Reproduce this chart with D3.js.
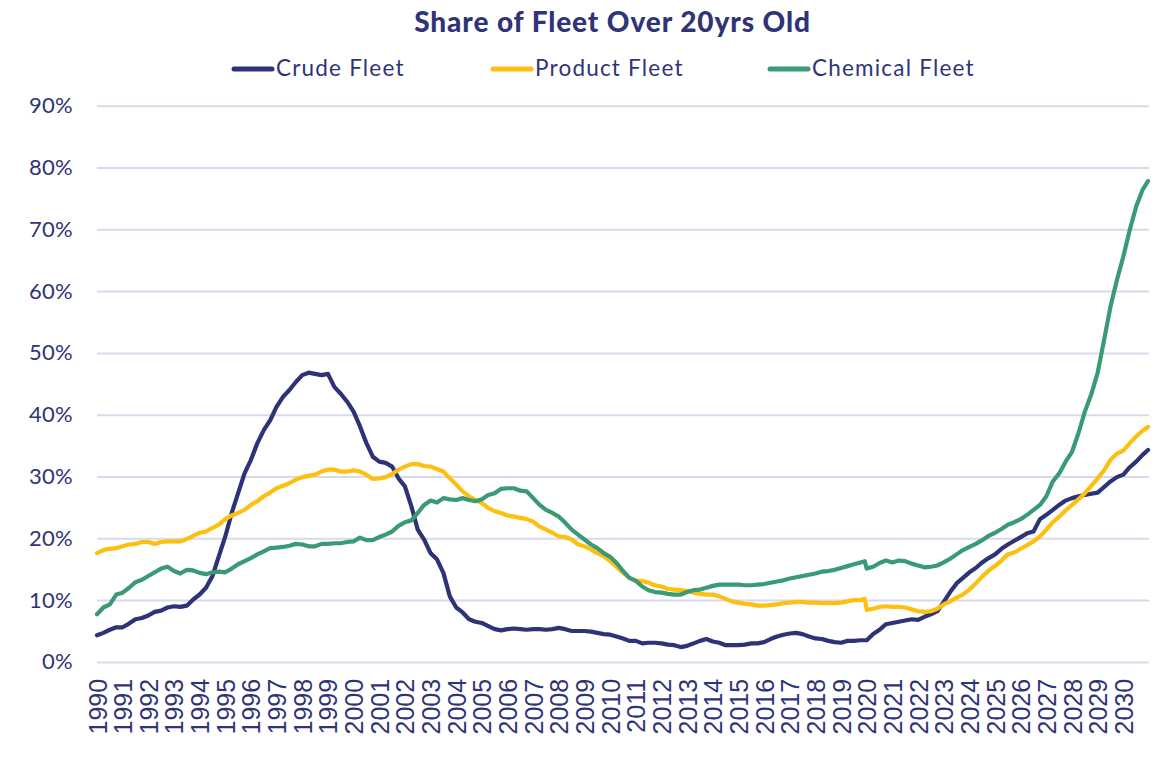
<!DOCTYPE html>
<html>
<head>
<meta charset="utf-8">
<script src="https://cdn.jsdelivr.net/npm/d3@7"></script>
<style>
  html, body { margin: 0; padding: 0; background: #fff; }
  svg { display: block; }
</style>
</head>
<body>
<svg id="chart" width="1167" height="779"></svg>
<script>
// ---- data (quarterly readings, % of fleet over 20 years old) ----
const title = "Share of Fleet Over 20yrs Old";
const seriesNames = ["Crude Fleet", "Product Fleet", "Chemical Fleet"];
const yearLabels = d3.range(1990, 2031).map(String);
const yTicks = [0, 10, 20, 30, 40, 50, 60, 70, 80, 90];

// time points: quarters 1990.00 ... 2030.75, an extra point just before the 2020 step, and the final month
const timePoints = [];
for (let yr = 1990; yr <= 2030; yr++) {
  for (let q = 0; q < 4; q++) {
    timePoints.push(yr + q * 0.25);
    if (yr === 2019 && q === 3) timePoints.push(2019.92);
  }
}
timePoints.push(2030.96);

const crude = [
  4.3, 4.7, 5.2, 5.6,      // 1990
  5.6, 6.2, 6.9, 7.1,      // 1991
  7.5, 8.1, 8.3, 8.8,      // 1992
  9.0, 8.9, 9.1, 10.1,     // 1993
  10.9, 12.0, 13.9, 17.1,  // 1994
  20.3, 24.1, 27.3, 30.5,  // 1995
  32.7, 35.4, 37.5, 39.1,  // 1996
  41.3, 42.9, 44.0, 45.3,  // 1997
  46.4, 46.8, 46.6, 46.4,  // 1998
  46.6, 44.5, 43.4, 42.1,  // 1999
  40.5, 38.1, 35.4, 33.2,  // 2000
  32.4, 32.2, 31.6, 29.7,  // 2001
  28.4, 25.2, 21.4, 19.8,  // 2002
  17.6, 16.6, 14.4, 10.6,  // 2003
  8.8, 8.0, 6.9, 6.5,      // 2004
  6.3, 5.8, 5.3, 5.1,      // 2005
  5.3, 5.4, 5.3, 5.2,      // 2006
  5.3, 5.3, 5.2, 5.3,      // 2007
  5.5, 5.3, 5.0, 5.0,      // 2008
  5.0, 4.9, 4.7, 4.5,      // 2009
  4.4, 4.1, 3.8, 3.4,      // 2010
  3.4, 3.0, 3.1, 3.1,      // 2011
  3.0, 2.8, 2.7, 2.4,      // 2012
  2.6, 3.0, 3.4, 3.7,      // 2013
  3.3, 3.1, 2.7, 2.7,      // 2014
  2.7, 2.8, 3.0, 3.0,      // 2015
  3.2, 3.7, 4.1, 4.4,      // 2016
  4.6, 4.7, 4.5, 4.1,      // 2017
  3.8, 3.7, 3.4, 3.2,      // 2018
  3.1, 3.4, 3.4, 3.5, 3.5, // 2019
  3.5, 4.5, 5.2, 6.1,      // 2020
  6.3, 6.5, 6.7, 6.9,      // 2021
  6.8, 7.3, 7.7, 8.2,      // 2022
  9.7, 11.3, 12.7, 13.6,   // 2023
  14.5, 15.2, 16.1, 16.8,  // 2024
  17.4, 18.3, 19.0, 19.6,  // 2025
  20.2, 20.8, 21.1, 23.1,  // 2026
  23.8, 24.6, 25.4, 26.1,  // 2027
  26.5, 26.8, 27.0, 27.2,  // 2028
  27.4, 28.3, 29.2, 29.9,  // 2029
  30.3, 31.5, 32.4, 33.5,  // 2030
  34.3
];

const product = [
  17.6, 18.1, 18.3, 18.4,  // 1990
  18.7, 19.0, 19.1, 19.4,  // 1991
  19.4, 19.1, 19.4, 19.5,  // 1992
  19.5, 19.5, 19.9, 20.4,  // 1993
  20.9, 21.1, 21.7, 22.2,  // 1994
  23.1, 23.7, 24.1, 24.6,  // 1995
  25.4, 26.0, 26.8, 27.4,  // 1996
  28.1, 28.5, 28.9, 29.5,  // 1997
  29.9, 30.1, 30.3, 30.8,  // 1998
  31.1, 31.1, 30.8, 30.8,  // 1999
  31.0, 30.8, 30.3, 29.6,  // 2000
  29.7, 29.9, 30.4, 31.1,  // 2001
  31.6, 32.0, 32.0, 31.7,  // 2002
  31.6, 31.2, 30.8, 29.7,  // 2003
  28.7, 27.6, 26.8, 26.2,  // 2004
  25.7, 24.9, 24.4, 24.1,  // 2005
  23.7, 23.5, 23.3, 23.1,  // 2006
  22.7, 21.9, 21.4, 20.9,  // 2007
  20.3, 20.2, 19.8, 19.0,  // 2008
  18.7, 18.2, 17.6, 17.1,  // 2009
  16.3, 15.4, 14.4, 13.6,  // 2010
  13.1, 13.1, 12.8, 12.4,  // 2011
  12.2, 11.8, 11.7, 11.6,  // 2012
  11.5, 11.2, 11.0, 10.9,  // 2013
  10.9, 10.6, 10.2, 9.8,   // 2014
  9.6, 9.4, 9.3, 9.1,      // 2015
  9.1, 9.2, 9.3, 9.5,      // 2016
  9.6, 9.7, 9.7, 9.6,      // 2017
  9.6, 9.5, 9.5, 9.5,      // 2018
  9.6, 9.8, 10.0, 10.0, 10.2, // 2019
  8.4, 8.6, 8.9, 9.0,      // 2020
  8.9, 8.9, 8.8, 8.5,      // 2021
  8.2, 8.1, 8.2, 8.6,      // 2022
  9.3, 9.8, 10.4, 10.9,    // 2023
  11.7, 12.7, 13.8, 14.8,  // 2024
  15.5, 16.4, 17.4, 17.7,  // 2025
  18.3, 18.9, 19.5, 20.3,  // 2026
  21.4, 22.6, 23.5, 24.5,  // 2027
  25.4, 26.3, 27.3, 28.5,  // 2028
  29.7, 31.0, 32.7, 33.7,  // 2029
  34.2, 35.4, 36.5, 37.4,  // 2030
  38.0
];

const chemical = [
  7.7, 8.8, 9.3, 10.9,     // 1990
  11.2, 12.0, 12.9, 13.3,  // 1991
  13.9, 14.5, 15.1, 15.4,  // 1992
  14.7, 14.3, 14.9, 14.8,  // 1993
  14.4, 14.2, 14.5, 14.6,  // 1994
  14.5, 15.1, 15.8, 16.3,  // 1995
  16.8, 17.4, 17.9, 18.4,  // 1996
  18.5, 18.6, 18.8, 19.1,  // 1997
  19.0, 18.7, 18.7, 19.1,  // 1998
  19.1, 19.2, 19.2, 19.4,  // 1999
  19.5, 20.1, 19.7, 19.7,  // 2000
  20.2, 20.6, 21.1, 22.0,  // 2001
  22.6, 22.9, 24.1, 25.4,  // 2002
  26.1, 25.8, 26.5, 26.3,  // 2003
  26.2, 26.5, 26.2, 26.0,  // 2004
  26.3, 27.0, 27.3, 28.0,  // 2005
  28.1, 28.1, 27.7, 27.6,  // 2006
  26.5, 25.4, 24.6, 24.1,  // 2007
  23.5, 22.5, 21.4, 20.6,  // 2008
  19.8, 19.0, 18.4, 17.6,  // 2009
  17.0, 16.0, 14.7, 13.6,  // 2010
  13.1, 12.2, 11.6, 11.3,  // 2011
  11.2, 11.0, 10.9, 10.9,  // 2012
  11.3, 11.6, 11.7, 12.0,  // 2013
  12.3, 12.5, 12.5, 12.5,  // 2014
  12.5, 12.4, 12.4, 12.5,  // 2015
  12.6, 12.8, 13.0, 13.2,  // 2016
  13.5, 13.7, 13.9, 14.1,  // 2017
  14.3, 14.6, 14.7, 14.9,  // 2018
  15.2, 15.5, 15.8, 16.1, 16.3, // 2019
  15.1, 15.4, 16.0, 16.4,  // 2020
  16.1, 16.4, 16.3, 15.9,  // 2021
  15.6, 15.3, 15.4, 15.6,  // 2022
  16.1, 16.7, 17.4, 18.1,  // 2023
  18.6, 19.1, 19.7, 20.4,  // 2024
  20.9, 21.5, 22.2, 22.6,  // 2025
  23.1, 23.8, 24.6, 25.4,  // 2026
  26.8, 29.2, 30.5, 32.4,  // 2027
  34.0, 37.0, 40.5, 43.3,  // 2028
  46.8, 52.1, 57.5, 61.8,  // 2029
  65.6, 69.9, 73.7, 76.4,  // 2030
  77.8
];

const seriesColors = ["#2e3277", "#fdc010", "#3a9a74"];
const seriesValues = [crude, product, chemical];

// ---- layout ----
const svg = d3.select("#chart");
const textColor = "#2f3478";
const plotLeft = 97, plotRight = 1149, plotTop = 105.7, plotBottom = 661.9;

const x = d3.scaleLinear().domain([1990, 2031]).range([plotLeft, plotRight]);
const y = d3.scaleLinear().domain([0, 90]).range([plotBottom, plotTop]);

// gridlines + y labels via axis
const yAxis = d3.axisLeft(y).tickValues(yTicks).tickSize(-(plotRight - plotLeft)).tickFormat(d => d + "%");
const gy = svg.append("g").attr("transform", `translate(${plotLeft},0)`).call(yAxis);
gy.select(".domain").remove();
gy.selectAll(".tick line").attr("stroke", "#d9d9ee").attr("stroke-width", 2);
gy.selectAll(".tick text")
  .attr("x", -24)
  .attr("fill", textColor)
  .style("font-family", "Lato, 'Noto Sans', sans-serif")
  .style("font-size", "22px")
  .style("letter-spacing", "0.3px");

// x labels (rotated years)
const xAxis = d3.axisBottom(x).tickValues(yearLabels.map(Number)).tickSize(0).tickFormat(d => String(d));
const gx = svg.append("g").attr("transform", `translate(0,${plotBottom})`).call(xAxis);
gx.select(".domain").remove();
gx.selectAll(".tick text")
  .attr("transform", "rotate(-90)")
  .attr("x", -17)
  .attr("y", 0)
  .attr("dy", "0.36em")
  .attr("text-anchor", "end")
  .attr("fill", textColor)
  .style("font-family", "'Liberation Sans', Arial, sans-serif")
  .style("font-size", "25px");

// lines
const line = d3.line()
  .x((d, i) => x(timePoints[i]))
  .y(d => y(d))
  .curve(d3.curveLinear);

seriesValues.forEach((vals, k) => {
  svg.append("path")
    .datum(vals)
    .attr("fill", "none")
    .attr("stroke", seriesColors[k])
    .attr("stroke-width", 4.2)
    .attr("stroke-linejoin", "round")
    .attr("stroke-linecap", "round")
    .attr("d", line);
});

// title
svg.append("text")
  .attr("x", 612.5)
  .attr("y", 32)
  .attr("text-anchor", "middle")
  .attr("fill", textColor)
  .style("font-family", "Lato, 'Noto Sans', sans-serif")
  .style("font-weight", "900")
  .style("font-size", "28px")
  .style("letter-spacing", "0.9px")
  .text(title);

// legend
const legendX = [232, 491, 768];
const lg = svg.append("g");
seriesNames.forEach((name, k) => {
  const g = lg.append("g").attr("transform", `translate(${legendX[k]},69)`);
  g.append("line")
    .attr("x1", 2).attr("x2", 40).attr("y1", 0).attr("y2", 0)
    .attr("stroke", seriesColors[k]).attr("stroke-width", 5).attr("stroke-linecap", "round");
  g.append("text")
    .attr("x", 44).attr("y", 7)
    .attr("fill", textColor)
    .style("font-family", "Lato, 'Noto Sans', sans-serif")
    .style("font-size", "22.5px")
    .style("letter-spacing", "1.2px")
    .text(name);
});
</script>
</body>
</html>
